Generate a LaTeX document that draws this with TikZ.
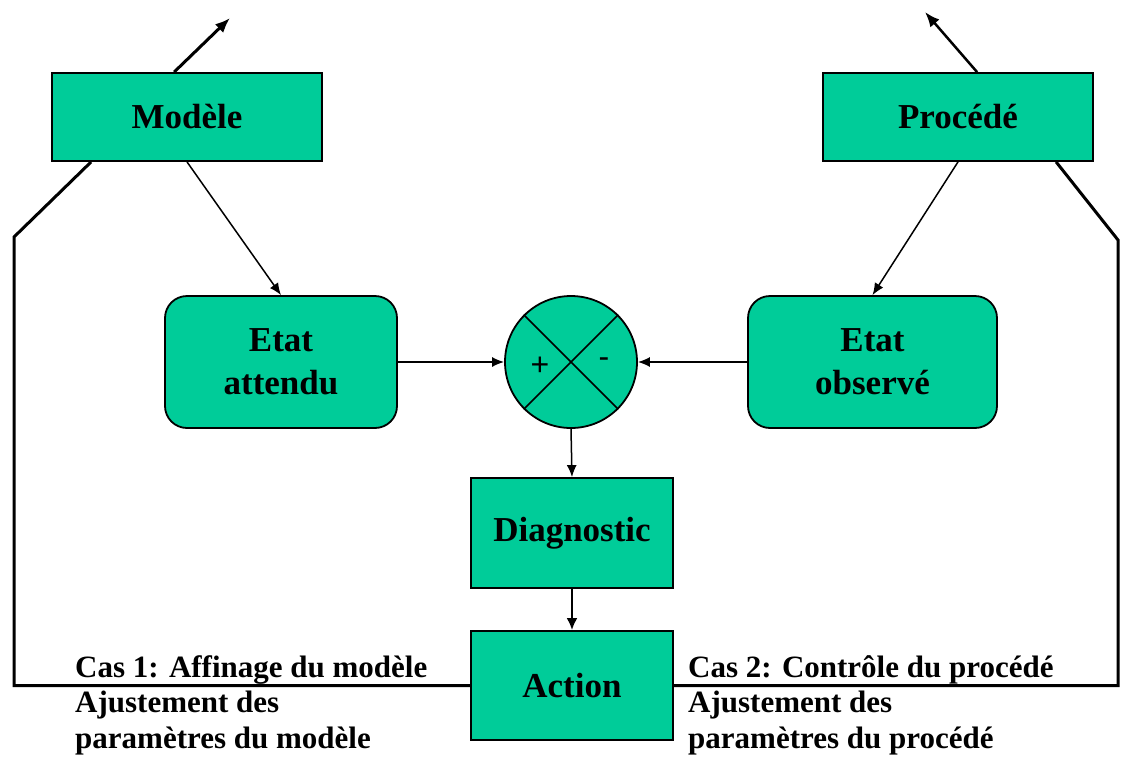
\documentclass[tikz,border=0pt]{standalone}
\usepackage{fontspec}
\setmainfont{Liberation Serif}
\newfontfamily\signfont{Liberation Sans}
\usetikzlibrary{arrows.meta,calc}
\definecolor{boxgreen}{RGB}{0,204,153}
\tikzset{
  box/.style={draw=black, line width=1.8pt, fill=boxgreen, inner sep=0pt,
    font=\fontsize{35}{43}\selectfont\bfseries, align=center},
  roundbox/.style={box, rounded corners=22pt},
  heavy link/.style={line width=3pt},
  flow/.style={line width=1.5pt, -{Latex[length=12pt,width=10pt]}},
  caselabel/.style={font=\fontsize{31}{37}\selectfont\bfseries, inner sep=0pt, anchor=base west},
  sign/.style={font=\signfont\fontsize{32}{38}\selectfont, inner sep=0pt},
}
\begin{document}
\begin{tikzpicture}[x=1pt,y=-1pt]
\useasboundingbox (0,0) rectangle (1133,758);

% blocks
\node[box, minimum width=270pt, minimum height=88pt] (mod) at (187,117) {Modèle};
\node[box, minimum width=270pt, minimum height=88pt] (pro) at (958,117) {Procédé};
\node[roundbox, minimum width=232pt, minimum height=132pt] (att) at (281,362) {Etat\\attendu};
\node[roundbox, minimum width=249pt, minimum height=132pt] (obs) at (872.5,362) {Etat\\observé};
\node[circle, draw=black, line width=1.8pt, fill=boxgreen, minimum size=132pt, inner sep=0pt] (sum) at (571,362) {};
\draw[line width=1.5pt] (sum.north west) -- (sum.south east);
\draw[line width=1.5pt] (sum.north east) -- (sum.south west);
\node[sign] (plus) at (540,366) {+};
\node[sign] (minus) at (604,363) {-};
\node[box, minimum width=202pt, minimum height=110pt] (diag) at (572,533) {Diagnostic};
\node[box, minimum width=202pt, minimum height=109pt] (act) at (572,685.5) {Action};

% outputs leaving the top blocks
\coordinate (modout) at (230,18);
\coordinate (proout) at (925,12);
\draw[heavy link, -{Latex[length=15pt,width=12pt]}] ($(mod.north west)+(123,0)$) -- (modout);
\draw[line width=2.5pt, -{Latex[length=15pt,width=12pt]}] ($(pro.north west)+(155,0)$) -- (proout);

% feedback loops from the action block
\coordinate (lc) at (14,237);
\coordinate (rc) at (1118,240);
\draw[heavy link] ($(mod.south west)+(40,0)$) -- (lc) |- (act.west);
\draw[heavy link] ($(pro.south west)+(234,0)$) -- (rc) |- (act.east);

% signal flow
\draw[flow] (mod.south) -- (att.north);
\draw[flow] (pro.south) -- (obs.north);
\draw[flow] (att.east) -- (sum.west);
\draw[flow] (obs.west) -- (sum.east);
\draw[flow] (sum.south) -- (diag.north);
\draw[line width=2.5pt, -{Latex[length=12pt,width=11pt]}] (diag.south) -- (act.north);

% case labels
\node[caselabel] (c1a) at (75,677) {Cas 1: Affinage du modèle};
\node[caselabel] (c1b) at (75,712) {Ajustement des};
\node[caselabel] (c1c) at (75,748) {paramètres du modèle};
\node[caselabel] (c2a) at (688,677) {Cas 2: Contrôle du procédé};
\node[caselabel] (c2b) at (688,712) {Ajustement des};
\node[caselabel] (c2c) at (688,748) {paramètres du procédé};
\end{tikzpicture}
\end{document}
